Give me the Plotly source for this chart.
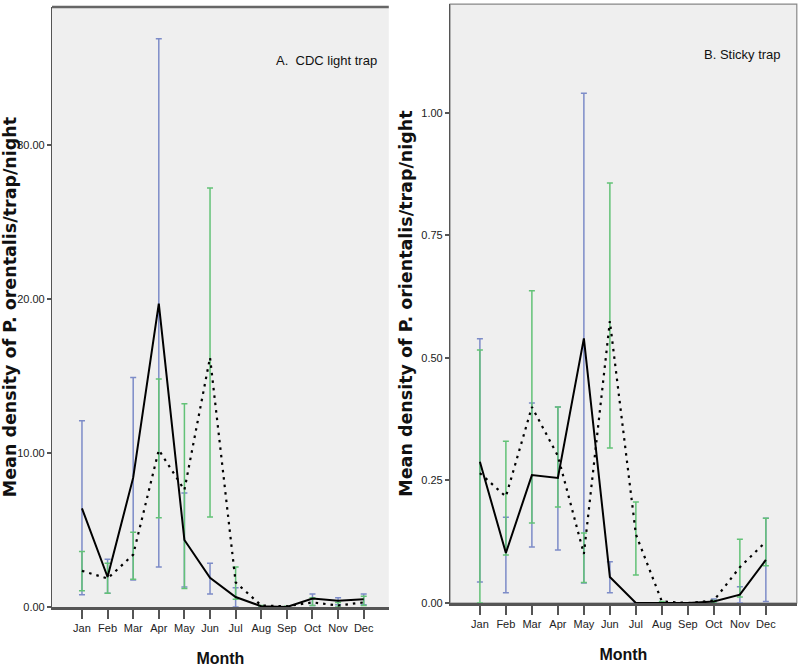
import plotly.graph_objects as go

months = ["Jan", "Feb", "Mar", "Apr", "May", "Jun", "Jul", "Aug", "Sep", "Oct", "Nov", "Dec"]

# Panel A: CDC light trap
a_solid = [6.4, 1.95, 8.4, 19.7, 4.35, 1.9, 0.65, 0.05, 0.0, 0.55, 0.4, 0.5]
a_solid_hi = [12.1, 3.1, 14.9, 36.9, 7.4, 2.85, 1.25, 0.05, 0.0, 0.85, 0.6, 0.85]
a_solid_lo = [0.8, 0.9, 1.75, 2.6, 1.3, 0.85, 0.0, 0.0, 0.0, 0.1, 0.15, 0.15]
a_dot = [2.35, 1.85, 3.4, 10.2, 7.6, 16.2, 1.6, 0.1, 0.05, 0.3, 0.1, 0.3]
a_dot_hi = [3.6, 2.85, 4.85, 14.8, 13.2, 27.2, 2.6, 0.1, 0.05, 0.6, 0.3, 0.7]
a_dot_lo = [1.05, 0.9, 1.8, 5.8, 1.2, 5.85, 0.5, 0.0, 0.0, 0.1, 0.0, 0.1]

# Panel B: Sticky trap
b_solid = [0.288, 0.102, 0.261, 0.255, 0.54, 0.053, 0.0, 0.0, 0.0, 0.003, 0.017, 0.088]
b_solid_hi = [0.539, 0.175, 0.408, 0.40, 1.04, 0.084, 0.0, 0.0, 0.0, 0.008, 0.033, 0.173]
b_solid_lo = [0.043, 0.021, 0.114, 0.108, 0.041, 0.021, 0.0, 0.0, 0.0, 0.0, 0.0, 0.003]
b_dot = [0.265, 0.217, 0.40, 0.30, 0.10, 0.575, 0.14, 0.003, 0.0, 0.005, 0.073, 0.125]
b_dot_hi = [0.516, 0.33, 0.637, 0.40, 0.143, 0.857, 0.206, 0.003, 0.0, 0.005, 0.13, 0.173]
b_dot_lo = [0.0, 0.098, 0.163, 0.196, 0.042, 0.316, 0.057, 0.0, 0.0, 0.0, 0.012, 0.076]

BLUE = "#7d8cc8"
GREEN = "#63c277"
AXIS = "#555555"
BG = "#efefef"
NARROW = "Liberation Sans Narrow, Arial Narrow, Liberation Sans, sans-serif"

x = list(range(len(months)))

fig = go.Figure()


def err_trace(mean, hi, lo, color, xa, ya):
    return go.Scatter(
        x=x, y=mean, mode="markers", marker=dict(size=0.1, opacity=0),
        error_y=dict(type="data", symmetric=False,
                     array=[h - m for h, m in zip(hi, mean)],
                     arrayminus=[m - l for m, l in zip(mean, lo)],
                     color=color, thickness=1.5, width=3),
        xaxis=xa, yaxis=ya, showlegend=False, hoverinfo="skip")


def line_trace(mean, dash, xa, ya):
    return go.Scatter(x=x, y=mean, mode="lines",
                      line=dict(color="black", width=2 if dash == "solid" else 2.2, dash=dash),
                      xaxis=xa, yaxis=ya, showlegend=False)


for (sm, sh, sl, dm, dh, dl, xa, ya) in [
        (a_solid, a_solid_hi, a_solid_lo, a_dot, a_dot_hi, a_dot_lo, "x", "y"),
        (b_solid, b_solid_hi, b_solid_lo, b_dot, b_dot_hi, b_dot_lo, "x2", "y2")]:
    fig.add_trace(err_trace(sm, sh, sl, BLUE, xa, ya))
    fig.add_trace(err_trace(dm, dh, dl, GREEN, xa, ya))
    fig.add_trace(line_trace(dm, "2.5px,5px", xa, ya))
    fig.add_trace(line_trace(sm, "solid", xa, ya))

xcommon = dict(tickvals=x, ticktext=months, ticks="outside", ticklen=9, tickwidth=1.5,
               tickcolor=AXIS, showline=True, linecolor=AXIS, linewidth=2.5,
               showgrid=False, zeroline=False, automargin=False,
               tickfont=dict(family=NARROW, size=11, color="#222"),
               title=dict(text="<b>Month</b>", font=dict(family=NARROW, size=16, color="#111"), standoff=20))
ycommon = dict(ticks="outside", ticklen=4, tickwidth=1.5, tickcolor=AXIS,
               showline=True, linecolor=AXIS, linewidth=1.2,
               showgrid=False, zeroline=False, tickformat=".2f", automargin=False,
               tickfont=dict(family=NARROW, size=11, color="#222"))

fig.update_layout(
    width=800, height=672,
    margin=dict(l=0, r=0, t=0, b=0, autoexpand=False),
    paper_bgcolor="white",
    plot_bgcolor="white",
    xaxis=dict(domain=[0.065, 0.486], range=[-1.17, 11.98], anchor="y", **xcommon),
    yaxis=dict(domain=[0.0967, 0.9896], range=[0, 38.96], anchor="x",
               tickvals=[0, 10, 20, 30],
               title=dict(text="<b>Mean density of P. orentalis/trap/night</b>",
                          font=dict(family="DejaVu Sans", size=17.5, color="#111"), standoff=6),
               **ycommon),
    xaxis2=dict(domain=[0.5625, 0.996], range=[-1.15, 12.19], anchor="y2", **xcommon),
    yaxis2=dict(domain=[0.1027, 0.994], range=[0, 1.222], anchor="x2",
                tickvals=[0, 0.25, 0.5, 0.75, 1.0],
                title=dict(text="<b>Mean density of P. orientalis/trap/night</b>",
                           font=dict(family="DejaVu Sans", size=17.5, color="#111"), standoff=4),
                **ycommon),
    shapes=[
        dict(type="rect", xref="x domain", yref="y domain", x0=0, x1=1, y0=0, y1=1,
             fillcolor=BG, line=dict(width=0), layer="below"),
        dict(type="rect", xref="x2 domain", yref="y2 domain", x0=0, x1=1, y0=0, y1=1,
             fillcolor=BG, line=dict(color="#888", width=1.2), layer="below"),
        dict(type="line", xref="x domain", yref="y domain", x0=0, x1=1, y0=1, y1=1,
             line=dict(color="#666", width=2.5)),
    ],
    annotations=[
        dict(text="A.  CDC light trap", xref="x domain", yref="y domain", x=0.97, y=0.91,
             xanchor="right", yanchor="middle", showarrow=False,
             font=dict(family=NARROW, size=13, color="#111")),
        dict(text="B. Sticky trap", xref="x2 domain", yref="y2 domain", x=0.96, y=0.915,
             xanchor="right", yanchor="middle", showarrow=False,
             font=dict(family=NARROW, size=13, color="#111")),
    ],
)

fig.write_html("out.html", config={"displayModeBar": False},
               post_script="document.body.style.margin='0';")
